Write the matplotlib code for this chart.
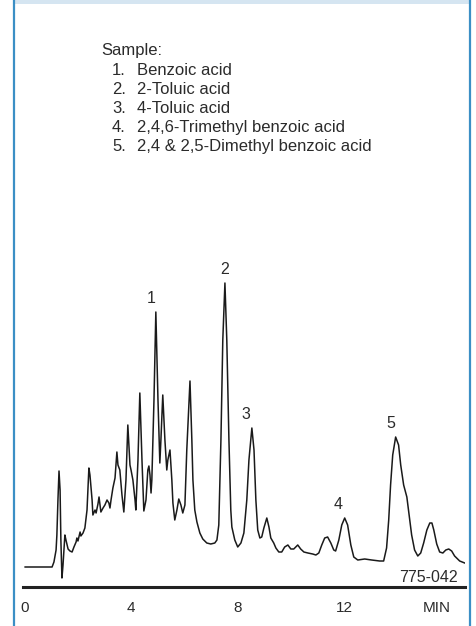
import matplotlib.pyplot as plt
from matplotlib.lines import Line2D
from matplotlib.patches import Rectangle

plt.rcParams['font.family'] = ['Liberation Sans', 'DejaVu Sans']

# chromatogram trace (time in min, detector signal in arb. units)
time_min = [0.03, 1.04, 1.11, 1.19, 1.22, 1.26, 1.30, 1.34, 1.37, 1.41, 1.45, 1.52, 1.56, 1.64, 1.71,
            1.79, 1.86, 1.94, 1.97, 2.01, 2.09, 2.12, 2.20, 2.27, 2.35, 2.39, 2.42, 2.46, 2.54, 2.57,
            2.65, 2.69, 2.76, 2.80, 2.87, 2.95, 3.02, 3.10, 3.17, 3.21, 3.25, 3.32, 3.40, 3.47, 3.51,
            3.55, 3.58, 3.66, 3.73, 3.81, 3.88, 3.96, 4.00, 4.07, 4.15, 4.18, 4.26, 4.33, 4.41, 4.48,
            4.56, 4.63, 4.67, 4.71, 4.75, 4.78, 4.86, 4.93, 5.01, 5.08, 5.12, 5.19, 5.27, 5.34, 5.38,
            5.46, 5.53, 5.57, 5.64, 5.72, 5.79, 5.87, 5.94, 6.02, 6.09, 6.21, 6.28, 6.32, 6.39, 6.47,
            6.58, 6.69, 6.84, 6.99, 7.14, 7.22, 7.29, 7.37, 7.44, 7.52, 7.59, 7.67, 7.74, 7.78, 7.89,
            8.00, 8.12, 8.23, 8.34, 8.42, 8.53, 8.61, 8.68, 8.75, 8.83, 8.90, 8.98, 9.09, 9.17, 9.24,
            9.35, 9.43, 9.54, 9.65, 9.76, 9.88, 9.99, 10.10, 10.25, 10.36, 10.48, 10.63, 10.81, 10.93,
            11.04, 11.15, 11.26, 11.37, 11.49, 11.60, 11.67, 11.79, 11.90, 12.01, 12.12, 12.24, 12.35,
            12.50, 12.76, 13.02, 13.32, 13.47, 13.58, 13.66, 13.73, 13.81, 13.92, 14.03, 14.11, 14.22,
            14.34, 14.41, 14.52, 14.63, 14.75, 14.86, 14.97, 15.09, 15.20, 15.28, 15.35, 15.46, 15.57,
            15.69, 15.80, 15.91, 16.02, 16.13, 16.32, 16.51]
signal = [0, 0, 5, 17, 32, 67, 96, 77, 27, -11, 2, 32, 27, 18, 16,
          15, 20, 25, 29, 26, 35, 31, 34, 39, 57, 82, 99, 92, 67, 52,
          57, 54, 63, 70, 55, 59, 62, 67, 64, 59, 67, 79, 89, 115, 102,
          99, 97, 72, 55, 87, 142, 102, 97, 87, 67, 57, 107, 174, 107, 56,
          67, 97, 101, 92, 74, 87, 167, 255, 167, 104, 127, 172, 127, 97, 107,
          117, 87, 64, 47, 57, 68, 62, 54, 62, 117, 186, 127, 87, 57, 45,
          34, 28, 24, 23, 24, 27, 42, 127, 227, 284, 227, 127, 57, 40, 27,
          20, 24, 34, 67, 107, 139, 117, 67, 37, 29, 30, 39, 49, 40, 29,
          24, 19, 15, 15, 20, 22, 18, 18, 22, 18, 15, 14, 13, 12,
          14, 22, 29, 30, 24, 17, 16, 27, 42, 49, 42, 22, 10,
          7, 8, 7, 6, 6, 19, 47, 82, 112, 130, 122, 102, 82,
          70, 55, 32, 17, 11, 14, 24, 37, 44, 44, 37, 23, 15,
          14, 17, 18, 16, 11, 6, 4]

sample_title = 'Sample:'
compounds = ['Benzoic acid', '2-Toluic acid', '4-Toluic acid',
             '2,4,6-Trimethyl benzoic acid', '2,4 & 2,5-Dimethyl benzoic acid']
peak_numbers = ['1', '2', '3', '4', '5']
peak_times = [4.93, 7.52, 8.53, 12.01, 13.92]
tick_values = [0, 4, 8, 12, 15.46]
tick_labels = ['0', '4', '8', '12', 'MIN']
chart_code = '775-042'

W, H = 477, 626
text_color = '#2b2b2b'

fig = plt.figure(figsize=(W / 100, H / 100), dpi=100)

# frame: blue side rules and a pale band on top
for xp in (14, 470.5):
    fig.add_artist(Line2D([xp / W, xp / W], [0, 1], color='#3b8fc5', lw=1.6))
fig.add_artist(Rectangle((15 / W, 1 - 3.5 / H), 455 / W, 3.5 / H,
                         transform=fig.transFigure, color='#d5e5f1', lw=0))

ax = fig.add_axes([23 / W, (H - 587) / H, 442 / W, (587 - 250) / H])
ax.plot(time_min, signal, color='#1a1a1a', lw=1.1)
ax.set_xlim(-0.05, 16.52)
ax.set_ylim(-20, 317)
for s in ['top', 'left', 'right']:
    ax.spines[s].set_visible(False)
ax.spines['bottom'].set_linewidth(2.2)
ax.spines['bottom'].set_color('#222222')
ax.set_yticks([])
ax.set_xticks(tick_values)
ax.set_xticklabels(tick_labels)
ax.tick_params(axis='x', length=0, pad=10, labelsize=11, labelcolor=text_color)
ax.patch.set_alpha(0)

label_dx = [-3, 0, -4.5, -4.5, -3.5]
for num, t, dx in zip(peak_numbers, peak_times, label_dx):
    y = signal[time_min.index(t)]
    ax.annotate(num, xy=(t, y), xytext=(dx, 9.5), textcoords='offset points',
                ha='center', va='center', fontsize=11.5, color=text_color)

fig.text(458 / W, 1 - 577.5 / H, chart_code, ha='right', va='center',
         fontsize=11.5, color=text_color)

fig.text(101 / W, 1 - 50 / H, sample_title, va='center', fontsize=12, color=text_color)
for i, name in enumerate(compounds):
    yy = 1 - (70.5 + 18.9 * i) / H
    fig.text(112 / W, yy, f'{i + 1}.', va='center', fontsize=12, color=text_color)
    fig.text(137 / W, yy, name, va='center', fontsize=12, color=text_color)

fig.savefig('out.png', dpi=100, facecolor='white')
